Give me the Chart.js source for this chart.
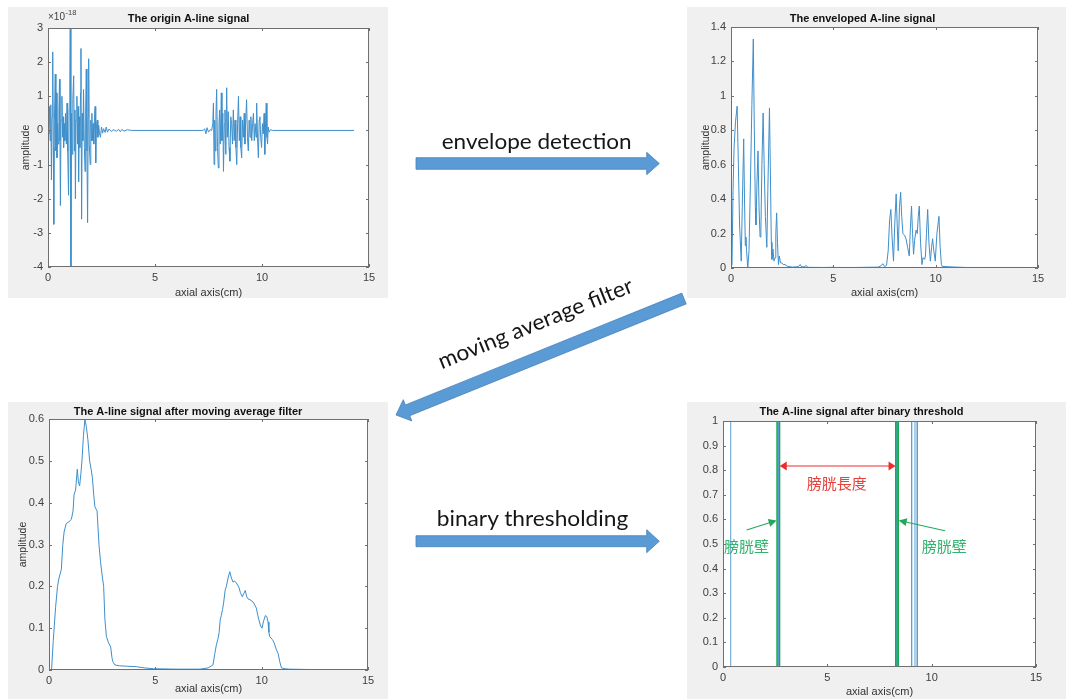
<!DOCTYPE html>
<html><head><meta charset="utf-8">
<script src="https://cdn.jsdelivr.net/npm/chart.js@4.4.1/dist/chart.umd.min.js"></script>
<style>
html,body{margin:0;padding:0;background:#fff;}
#stage{position:relative;width:1066px;height:699px;overflow:hidden;background:#fff;}
.panel{position:absolute;background:#f0f0f0;}
.panel canvas{display:block;}
#ov{position:absolute;left:0;top:0;}
</style></head><body>
<div id="stage">
<div class="panel" style="left:8px;top:7px;width:380px;height:291px"><canvas id="c1" width="380" height="291"></canvas></div>
<div class="panel" style="left:687px;top:7px;width:379px;height:291px"><canvas id="c2" width="379" height="291"></canvas></div>
<div class="panel" style="left:8px;top:402px;width:380px;height:297px"><canvas id="c3" width="380" height="297"></canvas></div>
<div class="panel" style="left:687px;top:402px;width:379px;height:297px"><canvas id="c4" width="379" height="297"></canvas></div>
<svg id="ov" width="1066" height="699">
  <g fill="#5b9bd5" stroke="#4a82bd" stroke-width="0.8">
    <polygon points="416,157.7 646.7,157.7 646.7,152.3 659.3,163.5 646.7,174.7 646.7,169.3 416,169.3"/>
    <polygon points="681.83,293.12 405.42,404.93 403.28,399.65 396,415 411.9,420.97 409.77,415.69 686.18,303.88"/>
    <polygon points="416,535.7 646.7,535.7 646.7,529.7 659.3,541.2 646.7,552.7 646.7,546.7 416,546.7"/>
  </g>
  <g fill="#161616" font-family="Lato, 'Open Sans', sans-serif" font-size="22">
    <text x="441.7" y="149" textLength="190" lengthAdjust="spacingAndGlyphs">envelope detection</text>
    <text x="436.7" y="525.7" textLength="191.6" lengthAdjust="spacingAndGlyphs">binary thresholding</text>
    <text transform="translate(441.7,369.3) rotate(-22)" textLength="208" lengthAdjust="spacingAndGlyphs">moving average filter</text>
  </g>
</svg>
</div>
<script>
// ---------------- DATA ----------------
const xTicks = [0, 5, 10, 15];

// origin A-line signal (amplitude in units of 1e-18)
const originSignal = [
[0,0],[0.04,-0.1],[0.07,0.7],[0.1,-0.3],[0.13,0.75],[0.16,-1.45],[0.19,0.4],[0.22,2.3],[0.25,-0.5],[0.27,-2.75],
[0.30,0.3],[0.34,1.65],[0.37,-0.6],[0.40,1.1],[0.42,-0.8],[0.45,0.2],[0.48,-0.4],[0.51,0.6],[0.54,1.5],[0.56,-0.3],
[0.58,-2.2],[0.61,0.3],[0.65,1.0],[0.68,-0.2],[0.71,0.4],[0.73,-0.5],[0.76,0.2],[0.79,-0.3],[0.82,0.5],[0.86,-0.4],
[0.89,0.8],[0.92,-0.6],[0.96,-1.9],[0.99,0.6],[1.02,1.3],[1.04,3.2],[1.07,-4.2],[1.10,0.5],[1.13,-0.7],[1.16,0.9],
[1.20,1.6],[1.23,-0.6],[1.26,0.6],[1.28,-2.0],[1.31,0.3],[1.35,1.0],[1.38,-0.4],[1.41,0.7],[1.43,-1.5],[1.46,0.4],
[1.49,-0.5],[1.52,1.1],[1.54,2.4],[1.57,-2.6],[1.60,0.5],[1.63,-0.3],[1.66,1.2],[1.70,-0.5],[1.73,-1.2],[1.76,0.6],
[1.79,1.8],[1.82,-0.6],[1.85,-2.7],[1.88,0.4],[1.90,2.1],[1.93,-0.4],[1.97,-1.0],[2.00,0.3],[2.03,-0.3],[2.05,0.5],
[2.08,-0.3],[2.11,0.2],[2.14,-0.4],[2.17,0.3],[2.20,0.7],[2.23,-0.95],[2.26,0.1],[2.30,0.3],[2.33,-0.2],[2.37,0.15],
[2.41,-0.1],[2.45,-0.2],[2.50,0.1],[2.55,-0.08],[2.60,0.05],[2.67,-0.06],[2.72,0.1],[2.78,-0.05],[2.85,0.04],[2.95,-0.03],
[3.05,0.02],[3.20,-0.02],[3.30,0.03],[3.38,-0.04],[3.45,0.03],[3.55,-0.02],[3.70,0.02],[3.90,0],[7.25,0],[7.32,0.05],
[7.38,-0.1],[7.43,0.08],[7.50,-0.05],[7.58,0.02],[7.65,0],
[7.70,0.2],[7.73,0.8],[7.76,-1.0],[7.79,0.3],[7.82,-0.6],[7.85,0.5],[7.88,1.2],[7.92,-0.5],[7.96,-1.1],[7.99,0.2],
[8.02,0.6],[8.05,-0.4],[8.10,1.1],[8.13,-0.3],[8.17,0.5],[8.20,-1.2],[8.24,0.2],[8.27,0.6],[8.31,-0.7],[8.35,1.25],
[8.38,-0.2],[8.42,0.55],[8.46,-0.5],[8.50,-0.9],[8.54,0.4],[8.58,0.2],[8.62,-0.4],[8.66,0.6],[8.70,-0.3],[8.74,0.3],
[8.78,-0.5],[8.82,-1.0],[8.86,0.2],[8.90,1.0],[8.94,-0.3],[8.98,0.4],[9.01,-0.5],[9.05,-0.8],[9.09,0.3],[9.13,-0.2],
[9.17,0.5],[9.20,-0.4],[9.24,0.3],[9.28,0.9],[9.32,-0.2],[9.36,-0.6],[9.40,0.3],[9.44,-0.2],[9.48,0.4],[9.52,-0.3],
[9.56,0.2],[9.60,0.5],[9.64,-0.3],[9.68,0.2],[9.72,-0.2],[9.75,0.8],[9.79,-0.2],[9.83,-0.8],[9.87,0.3],[9.90,0.4],
[9.94,-0.2],[9.98,-0.5],[10.02,0.2],[10.06,-0.1],[10.10,0.5],[10.13,-0.7],[10.17,0.3],[10.20,0.8],[10.23,-0.2],[10.26,-0.4],
[10.29,0.1],[10.33,-0.05],[10.40,0.02],[10.50,0],[14.30,0]
];
const originYTicks = [-4, 3, 1];   // min, max, step

// enveloped A-line signal
const envelopeSignal = [
[0,0],[0.05,0.02],[0.10,0.45],[0.15,0.7],[0.22,0.85],[0.30,0.94],[0.36,0.6],[0.42,0.25],[0.50,0.04],[0.55,0.35],
[0.62,0.75],[0.66,0.4],[0.70,0.13],[0.73,0.18],[0.76,0.1],[0.82,0],[0.88,0.1],[0.95,0.5],[1.02,0.95],[1.09,1.33],
[1.14,0.8],[1.19,0.35],[1.22,0.25],[1.27,0.5],[1.32,0.68],[1.37,0.35],[1.42,0.18],[1.46,0.22],[1.51,0.6],[1.57,0.9],
[1.62,0.6],[1.68,0.3],[1.75,0.12],[1.80,0.45],[1.88,0.93],[1.93,0.5],[1.97,0.15],[2.00,0.05],[2.05,0.11],[2.10,0.04],
[2.15,0.06],[2.19,0.2],[2.23,0.32],[2.27,0.15],[2.32,0.02],[2.36,0.07],[2.42,0.03],[2.48,0.03],[2.55,0.02],[2.64,0.02],
[2.75,0.01],[3.00,0.005],[3.30,0.008],[3.38,0.02],[3.45,0.006],[3.60,0.008],[3.67,0.015],[3.75,0.004],[4.50,0.003],[4.95,0.004],
[5.00,0.01],[5.05,0.003],[6.00,0.003],[7.20,0.005],[7.35,0.015],[7.42,0.025],[7.50,0.008],[7.60,0.015],[7.68,0.1],[7.75,0.28],
[7.81,0.34],[7.87,0.18],[7.94,0.04],[8.00,0.25],[8.07,0.43],[8.12,0.25],[8.17,0.1],[8.23,0.35],[8.29,0.44],[8.34,0.3],
[8.40,0.2],[8.48,0.19],[8.55,0.17],[8.63,0.12],[8.71,0.07],[8.76,0.22],[8.82,0.36],[8.87,0.2],[8.92,0.08],[8.97,0.16],
[9.04,0.22],[9.10,0.2],[9.15,0.3],[9.20,0.36],[9.26,0.15],[9.33,0.02],[9.38,0.06],[9.46,0.05],[9.50,0.07],[9.55,0.2],
[9.61,0.34],[9.67,0.15],[9.74,0.04],[9.80,0.12],[9.85,0.17],[9.91,0.1],[9.98,0.04],[10.06,0.2],[10.16,0.3],[10.22,0.12],
[10.28,0.02],[10.31,0.01],[10.50,0.008],[10.80,0.006],[11.50,0.003],[14.30,0.003]
];
const envelopeYTicks = [0, 1.4, 0.2];

// signal after moving average filter
const movingAvgSignal = [
[0,0],[0.12,0],[0.2,0.07],[0.31,0.15],[0.4,0.2],[0.47,0.22],[0.58,0.24],[0.65,0.3],[0.71,0.33],[0.81,0.35],
[0.95,0.355],[1.05,0.36],[1.13,0.38],[1.18,0.42],[1.25,0.43],[1.33,0.48],[1.38,0.45],[1.44,0.44],[1.5,0.47],[1.55,0.5],
[1.62,0.56],[1.69,0.6],[1.76,0.58],[1.83,0.55],[1.91,0.5],[1.98,0.48],[2.04,0.46],[2.1,0.42],[2.16,0.39],[2.26,0.38],
[2.35,0.3],[2.42,0.26],[2.49,0.23],[2.57,0.2],[2.63,0.12],[2.7,0.08],[2.8,0.065],[2.9,0.055],[2.96,0.03],[3.0,0.02],
[3.1,0.012],[3.32,0.01],[3.7,0.009],[4.1,0.008],[4.5,0.005],[4.9,0.003],[6.0,0.002],[7.1,0.002],[7.48,0.005],[7.71,0.012],
[7.8,0.04],[7.87,0.06],[7.95,0.075],[8.0,0.09],[8.05,0.12],[8.1,0.13],[8.16,0.145],[8.21,0.16],[8.28,0.19],[8.34,0.2],
[8.42,0.22],[8.5,0.235],[8.58,0.22],[8.65,0.21],[8.72,0.213],[8.81,0.208],[8.93,0.198],[9.0,0.185],[9.09,0.175],[9.16,0.183],
[9.23,0.19],[9.3,0.175],[9.36,0.17],[9.45,0.168],[9.59,0.163],[9.68,0.155],[9.75,0.148],[9.82,0.13],[9.87,0.12],[9.95,0.105],
[10.02,0.1],[10.08,0.115],[10.17,0.13],[10.24,0.128],[10.3,0.115],[10.34,0.09],[10.38,0.08],[10.5,0.073],[10.58,0.066],[10.68,0.05],
[10.77,0.04],[10.85,0.02],[10.93,0.005],[11.1,0.003],[11.3,0.002],[12.5,0.001],[14.3,0]
];
const movingAvgYTicks = [0, 0.6, 0.1];

// signal after binary threshold
const binarySignal = [
[0,0],[0.37,0],[0.37,1],[2.65,1],[2.65,0],[8.34,0],[8.34,1],[9.04,1],[9.04,0],[9.2,0],[9.2,1],[9.31,1],[9.31,0],[14.3,0]
];
const binaryYTicks = [0, 1, 0.1];
const bladderWalls = [2.65, 8.34];

// annotations (data coordinates)
const lengthArrow = { from: [2.72, 0.817], to: [8.27, 0.817], label: '膀胱長度', labelAt: [5.45, 0.747] };
const wallArrows = [
  { from: [1.13, 0.557], to: [2.57, 0.596], label: '膀胱壁', labelAt: [1.13, 0.489] },
  { from: [10.64, 0.554], to: [8.42, 0.596], label: '膀胱壁', labelAt: [10.6, 0.489] }
];

// ---------------- STYLE / HELPERS ----------------
const FONT = '"Liberation Sans", Arial, Helvetica, sans-serif';
const TICK_COLOR = '#404040';
const SIG_BLUE = '#3e8fcb';

const toXY = arr => arr.map(p => ({ x: p[0], y: p[1] }));
const fmtTick = v => String(Math.round(v * 100) / 100);

const matlabAxes = {
  id: 'matlabAxes',
  beforeDatasetsDraw(chart) {
    const { ctx, chartArea: a } = chart;
    ctx.save();
    ctx.fillStyle = '#ffffff';
    ctx.fillRect(a.left, a.top, a.right - a.left, a.bottom - a.top);
    ctx.restore();
  },
  afterDatasetsDraw(chart) {
    const { ctx, chartArea: a, scales: { x, y } } = chart;
    const L = 3;
    ctx.save();
    ctx.strokeStyle = '#6f6f6f';
    ctx.lineWidth = 1;
    ctx.beginPath();
    x.ticks.forEach(t => {
      const px = Math.round(x.getPixelForValue(t.value)) + 0.5;
      ctx.moveTo(px, a.bottom); ctx.lineTo(px, a.bottom - L);
      ctx.moveTo(px, a.top); ctx.lineTo(px, a.top + L);
    });
    y.ticks.forEach(t => {
      const py = Math.round(y.getPixelForValue(t.value)) + 0.5;
      ctx.moveTo(a.left, py); ctx.lineTo(a.left + L, py);
      ctx.moveTo(a.right, py); ctx.lineTo(a.right - L, py);
    });
    ctx.stroke();
    ctx.strokeRect(Math.round(a.left) + 0.5, Math.round(a.top) + 0.5,
                   Math.round(a.right - a.left) - 1, Math.round(a.bottom - a.top) - 1);
    ctx.restore();
  }
};

function makeChart(id, o) {
  const yTitle = o.yTitle ? {
    display: true, text: o.yTitle, color: '#333',
    font: { family: FONT, size: 10.5, lineHeight: 1 },
    padding: { top: o.yTitlePad, bottom: 0 }
  } : { display: false };
  return new Chart(document.getElementById(id), {
    type: 'line',
    data: { datasets: o.datasets },
    options: {
      responsive: false, animation: false, events: [],
      layout: { padding: { top: 0, right: o.padRight, bottom: 0, left: 0 } },
      plugins: {
        legend: { display: false }, tooltip: { enabled: false },
        title: {
          display: true, text: o.title, color: '#111',
          font: { family: FONT, size: 11, weight: 'bold', lineHeight: 1.2 },
          padding: { top: o.titlePad[0], bottom: o.titlePad[1] }
        }
      },
      scales: {
        x: {
          type: 'linear', min: 0, max: 15,
          afterBuildTicks: s => { s.ticks = xTicks.map(v => ({ value: v })); },
          ticks: { color: TICK_COLOR, font: { family: FONT, size: 11 }, padding: 4, maxRotation: 0, callback: fmtTick },
          grid: { display: false, drawTicks: false }, border: { display: false },
          title: { display: true, text: 'axial axis(cm)', color: '#333',
                   font: { family: FONT, size: 11, lineHeight: 1 },
                   padding: { top: 0, bottom: o.xTitlePad } },
          afterFit: s => { s.height = o.xHeight; }
        },
        y: {
          type: 'linear', min: o.yTicks[0], max: o.yTicks[1],
          ticks: { stepSize: o.yTicks[2], color: TICK_COLOR, font: { family: FONT, size: 11 }, padding: 5, callback: fmtTick },
          grid: { display: false, drawTicks: false }, border: { display: false },
          title: yTitle,
          afterFit: s => { s.width = o.yWidth; }
        }
      }
    },
    plugins: [matlabAxes].concat(o.plugins || [])
  });
}

function lineDS(data, color, width) {
  return { data: toXY(data), borderColor: color, borderWidth: width, pointRadius: 0, fill: false, tension: 0 };
}

function arrowHead(ctx, tip, from, len, half) {
  const dx = tip[0] - from[0], dy = tip[1] - from[1];
  const d = Math.hypot(dx, dy), ux = dx / d, uy = dy / d;
  const bx = tip[0] - ux * len, by = tip[1] - uy * len;
  ctx.beginPath();
  ctx.moveTo(tip[0], tip[1]);
  ctx.lineTo(bx - uy * half, by + ux * half);
  ctx.lineTo(bx + uy * half, by - ux * half);
  ctx.closePath();
  ctx.fill();
}

// exponent label for the origin signal
const exponentLabel = {
  id: 'exponentLabel',
  afterDraw(chart) {
    const { ctx, chartArea: a } = chart;
    ctx.save();
    ctx.fillStyle = TICK_COLOR;
    ctx.textBaseline = 'alphabetic';
    ctx.font = '10px ' + FONT;
    ctx.fillText('\u00d710', a.left, a.top - 8);
    const w = ctx.measureText('\u00d710').width;
    ctx.font = '7.5px ' + FONT;
    ctx.fillText('-18', a.left + w + 0.5, a.top - 13);
    ctx.restore();
  }
};

// bladder annotations
const bladderAnnot = {
  id: 'bladderAnnot',
  afterDatasetsDraw(chart) {
    const { ctx, scales: { x, y } } = chart;
    const P = p => [x.getPixelForValue(p[0]), y.getPixelForValue(p[1])];
    ctx.save();
    // red double arrow
    const a = P(lengthArrow.from), b = P(lengthArrow.to);
    ctx.strokeStyle = '#f02a2a'; ctx.fillStyle = '#f02a2a'; ctx.lineWidth = 1.2;
    ctx.beginPath(); ctx.moveTo(a[0] + 5, a[1]); ctx.lineTo(b[0] - 5, b[1]); ctx.stroke();
    arrowHead(ctx, a, b, 7, 4.5);
    arrowHead(ctx, b, a, 7, 4.5);
    ctx.font = '15px "Noto Sans CJK TC", "Noto Sans CJK SC", sans-serif';
    ctx.textAlign = 'center'; ctx.textBaseline = 'middle';
    const lp = P(lengthArrow.labelAt);
    ctx.fillStyle = '#e8403a';
    ctx.fillText(lengthArrow.label, lp[0], lp[1]);
    // green wall arrows
    wallArrows.forEach(w => {
      const f = P(w.from), t = P(w.to);
      ctx.strokeStyle = '#22a85a'; ctx.fillStyle = '#22a85a'; ctx.lineWidth = 1.1;
      const dx = t[0] - f[0], dy = t[1] - f[1], d = Math.hypot(dx, dy);
      ctx.beginPath(); ctx.moveTo(f[0], f[1]); ctx.lineTo(t[0] - dx / d * 5, t[1] - dy / d * 5); ctx.stroke();
      arrowHead(ctx, t, f, 8, 4);
      const q = P(w.labelAt);
      ctx.fillStyle = '#2fb36d';
      ctx.fillText(w.label, q[0], q[1]);
    });
    ctx.restore();
  }
};

// ---------------- CHARTS ----------------
makeChart('c1', {
  title: 'The origin A-line signal', titlePad: [5.4, 2.4],
  yTitle: 'amplitude', yTitlePad: 12.75, xTitlePad: 0,
  yTicks: originYTicks, yWidth: 40, xHeight: 31, padRight: 19,
  datasets: [lineDS(originSignal, SIG_BLUE, 1)],
  plugins: [exponentLabel]
});

makeChart('c2', {
  title: 'The enveloped A-line signal', titlePad: [5.4, 1.4],
  yTitle: 'amplitude', yTitlePad: 13.75, xTitlePad: 0,
  yTicks: envelopeYTicks, yWidth: 44, xHeight: 30, padRight: 28,
  datasets: [lineDS(envelopeSignal, SIG_BLUE, 1)]
});

makeChart('c3', {
  title: 'The A-line signal after moving average filter', titlePad: [3.4, 0.4],
  yTitle: 'amplitude', yTitlePad: 9.75, xTitlePad: 4.5,
  yTicks: movingAvgYTicks, yWidth: 41, xHeight: 29, padRight: 20,
  datasets: [lineDS(movingAvgSignal, SIG_BLUE, 1)]
});

makeChart('c4', {
  title: 'The A-line signal after binary threshold', titlePad: [3.4, 2.4],
  yTitle: null, xTitlePad: 1.5,
  yTicks: binaryYTicks, yWidth: 36, xHeight: 32, padRight: 30,
  datasets: [lineDS(binarySignal, '#5a9fd2', 1)].concat(
    bladderWalls.map(v => lineDS([[v, 0], [v, 1]], '#16a84c', 4))
  ),
  plugins: [bladderAnnot]
});
</script>
</body></html>
